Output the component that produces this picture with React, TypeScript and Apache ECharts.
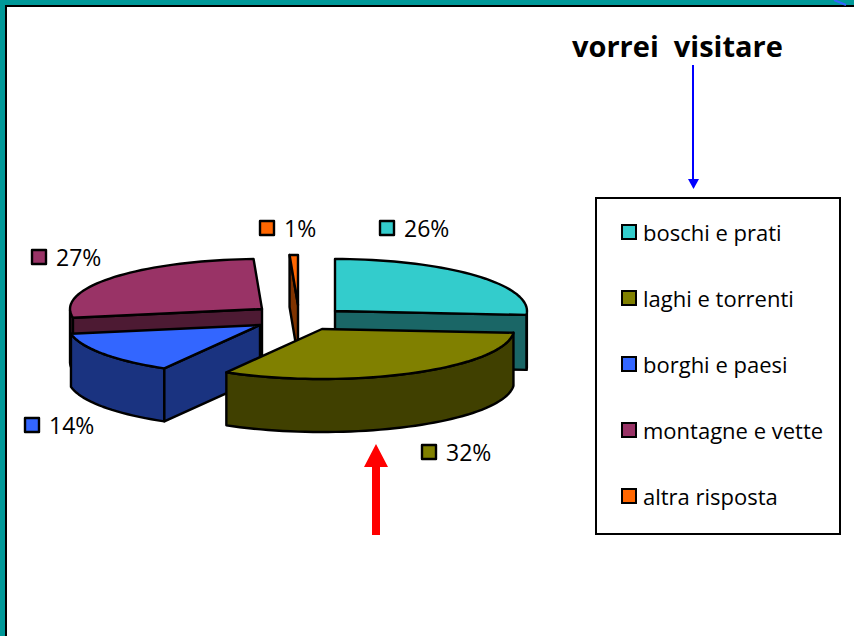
import React, { useEffect, useRef } from "react";
import * as echarts from "echarts";

const categories = ["boschi e prati", "laghi e torrenti", "borghi e paesi", "montagne e vette", "altra risposta"];
const values = [26.2, 32.1, 13.9, 27.1, 0.7];
const percentLabels = ["26%", "32%", "14%", "27%", "1%"];
const topColors = ["#33CCCC", "#808000", "#3366FF", "#993366", "#FF6600"];
const wallColors = ["#1A6666", "#404000", "#1A3380", "#4D1A33", "#803300"];

// Layout only (not data)
const CENTERS = [[335, 311], [322, 329], [260, 325], [262, 309], [298, 305]];
const DEPTHS = [55, 53, 53, 53, 52];
const RYS = [52, 50, 50, 50, 50];
const STACK = [2, 6, 5, 4, 3];
const LABEL_POS = [[380, 228], [422, 452], [25, 425], [32, 257], [260, 228]];
const RX = 192;
const FONT = "Open Sans";

const TOTAL = values.reduce((a, b) => a + b, 0);
const startOf = (i: number) => (values.slice(0, i).reduce((a, b) => a + b, 0) / TOTAL) * Math.PI * 2;

function App() {
  const ref = useRef<HTMLDivElement>(null);
  useEffect(() => {
    document.body.style.margin = "0";
    const chart = echarts.init(ref.current!, null, { renderer: "svg" });
    const stroke = { stroke: "#000", lineWidth: 2.4, lineJoin: "round" };
    const series = categories.map((name, i) => ({
      type: "custom",
      name,
      coordinateSystem: "none",
      z: STACK[i],
      itemStyle: { color: topColors[i] },
      data: [[values[i]]],
      renderItem: (_p: any, api: any) => {
        const [cx, cy] = CENTERS[i];
        const d = DEPTHS[i];
        const ry = RYS[i];
        const a0 = startOf(i);
        const a1 = a0 + (api.value(0) / TOTAL) * Math.PI * 2;
        const pt = (a: number, dy = 0) => [cx + RX * Math.sin(a), cy - ry * Math.cos(a) + dy];
        const n = Math.max(2, Math.ceil((a1 - a0) / 0.04));
        const angles: number[] = [];
        for (let k = 0; k <= n; k++) angles.push(a0 + ((a1 - a0) * k) / n);
        const arc = angles.map((a) => pt(a));
        const poly = (points: number[][], fill: string) => ({
          type: "polygon",
          shape: { points },
          style: { fill, ...stroke },
        });
        const children: any[] = [];
        const wall = wallColors[i];
        const quad = (a: number) => [[cx, cy], pt(a), pt(a, d), [cx, cy + d]];
        // outer rim, only its front-facing part
        const front = angles.filter((a) => a >= Math.PI / 2 && a <= (Math.PI * 3) / 2).map((a) => pt(a));
        if (front.length > 1) {
          children.push(poly([...front, ...[...front].reverse().map(([x, y]) => [x, y + d])], wall));
        }
        // only the radial walls that face the viewer
        if (a0 > Math.PI) children.push(poly(quad(a0), wall));
        if (a1 < Math.PI) children.push(poly(quad(a1), wall));
        children.push(poly([[cx, cy], ...arc], topColors[i]));
        const [lx, ly] = LABEL_POS[i];
        children.push({
          type: "rect",
          shape: { x: lx, y: ly - 7, width: 14, height: 14 },
          style: { fill: topColors[i], ...stroke },
        });
        children.push({
          type: "text",
          style: {
            text: percentLabels[i],
            x: lx + 24,
            y: ly,
            fill: "#000",
            font: `23px "${FONT}"`,
            verticalAlign: "middle",
            align: "left",
          },
        });
        return { type: "group", children };
      },
    }));

    chart.setOption({
      animation: false,
      backgroundColor: "#fff",
      title: {
        text: "vorrei  visitare",
        left: 572,
        top: 31,
        padding: 0,
        textStyle: { fontFamily: FONT, fontWeight: "bold", fontSize: 29, color: "#000" },
      },
      legend: {
        data: categories,
        orient: "vertical",
        left: 621,
        top: 217,
        padding: 0,
        itemGap: 36,
        itemWidth: 14,
        itemHeight: 14,
        icon: "rect",
        itemStyle: { borderColor: "#000", borderWidth: 2 },
        selectedMode: false,
        textStyle: { fontFamily: FONT, fontSize: 22, color: "#000", padding: [0, 0, 0, 2], lineHeight: 30 },
      },
      series,
      graphic: [
        { type: "rect", z: -1, shape: { x: 0, y: 0, width: 854, height: 5 }, style: { fill: "#009999" } },
        { type: "rect", z: -1, shape: { x: 0, y: 0, width: 5, height: 636 }, style: { fill: "#009999" } },
        { type: "rect", z: -1, shape: { x: 5, y: 5, width: 849, height: 2 }, style: { fill: "#000" } },
        { type: "rect", z: -1, shape: { x: 5, y: 5, width: 2, height: 631 }, style: { fill: "#000" } },
        { type: "line", z: -1, shape: { x1: 834, y1: 0, x2: 846, y2: 5 }, style: { stroke: "#3366ff", lineWidth: 2 } },
        { type: "rect", z: -1, shape: { x: 596, y: 198, width: 244, height: 336 }, style: { fill: "#fff", stroke: "#000", lineWidth: 2 } },
        { type: "line", shape: { x1: 693, y1: 65, x2: 693, y2: 181 }, style: { stroke: "#0000ff", lineWidth: 2 } },
        { type: "polygon", shape: { points: [[688, 179], [699, 179], [693.5, 189]] }, style: { fill: "#0000ff" } },
        { type: "polygon", shape: { points: [[372, 535], [380, 535], [380, 467], [388, 467], [376, 444], [364, 467], [372, 467]] }, style: { fill: "#ff0000" } },
      ],
    });
    return () => chart.dispose();
  }, []);
  return <div ref={ref} style={{ position: "absolute", left: 0, top: 0, width: 854, height: 636 }} />;
}

export default App;
